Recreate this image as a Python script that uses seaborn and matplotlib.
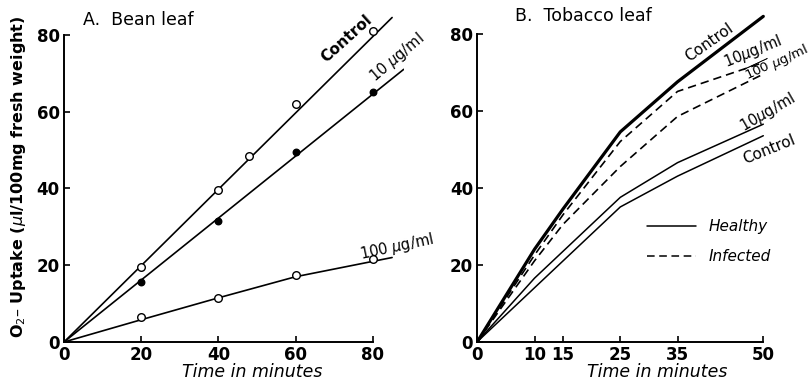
import matplotlib
matplotlib.use("Agg")
import matplotlib.pyplot as plt
import seaborn as sns
import numpy as np
import pandas as pd
from matplotlib.lines import Line2D

# ---------------- data ----------------
# Panel A: Bean leaf (measured points)
bean_t = [20, 40, 60, 80]
bean_ctrl_t = [20, 40, 48, 60, 80]
bean_ctrl = [19.5, 39.5, 48.5, 62, 81]
bean_10 = [15.5, 31.5, 49.5, 65]
bean_100 = [6.5, 11.5, 17.5, 21.5]
# Panel A: fitted curves
fit_ctrl_t = [0, 85]
fit_ctrl = [0, 84.5]
fit_10_t = [0, 88]
fit_10 = [0, 71]
fit_100_t = [0, 20, 40, 60, 80, 85]
fit_100 = [0, 5.8, 11.5, 17, 21, 22]

# Panel B: Tobacco leaf
tob_t = [0, 10, 15, 25, 35, 50]
tob_h_ctrl = [0, 24, 34.5, 54.5, 67.5, 84.5]      # healthy control (thick)
tob_i_10 = [0, 22.5, 33, 52, 65, 72.5]             # infected 10 ug/ml
tob_i_100 = [0, 21, 30.5, 45.5, 58.5, 69.5]        # infected 100 ug/ml
tob_h_10 = [0, 16.5, 23.5, 37.5, 46.5, 56.5]       # healthy 10 ug/ml
tob_h_ctrl2 = [0, 14, 21, 35, 43, 53.5]            # healthy control (thin)

x_ticks_a = [0, 20, 40, 60, 80]
x_ticks_b = [0, 10, 15, 25, 35, 50]
y_ticks = [0, 20, 40, 60, 80]

# ---------------- style ----------------
sns.set_style("ticks")
plt.rcParams['font.family'] = ['DejaVu Sans']
plt.rcParams['text.color'] = 'black'
plt.rcParams['axes.labelcolor'] = 'black'

W, H = 811, 384
fig = plt.figure(figsize=(W / 100, H / 100), dpi=100)

def px_axes(x0, y0_bottom, w, h):
    return fig.add_axes([x0 / W, 1 - y0_bottom / H, w / W, h / H])

# Panel A axes: x 0 at 64px, 3.86 px/unit ; y 0 at 342px, 3.84 px/unit
axA = px_axes(64, 342, 88 * 3.86, 86 * 3.84)
axA.set_xlim(0, 88)
axA.set_ylim(0, 86)

# Panel B axes: x 0 at 477px, 5.72 px/min
axB = px_axes(477.3, 341.7, 52.5 * 5.72, 86 * 3.85)
axB.set_xlim(0, 52.5)
axB.set_ylim(0, 86)

k = dict(color='black', legend=False)

# ---- Panel A ----
sns.lineplot(x=fit_ctrl_t, y=fit_ctrl, ax=axA, lw=1.2, **k)
sns.lineplot(x=fit_10_t, y=fit_10, ax=axA, lw=1.2, **k)
sns.lineplot(x=fit_100_t, y=fit_100, ax=axA, lw=1.2, **k)
sns.scatterplot(x=bean_ctrl_t, y=bean_ctrl, ax=axA, marker='o', s=30,
                facecolor='white', edgecolor='black', linewidth=1.0, zorder=5)
sns.scatterplot(x=bean_t, y=bean_100, ax=axA, marker='o', s=30,
                facecolor='white', edgecolor='black', linewidth=1.0, zorder=5)
sns.scatterplot(x=bean_t, y=bean_10, ax=axA, marker='o', s=22,
                facecolor='black', edgecolor='black', linewidth=1.0, zorder=5)

# ---- Panel B ----
sns.lineplot(x=tob_t, y=tob_h_ctrl, ax=axB, lw=2.3, **k)
sns.lineplot(x=tob_t, y=tob_i_10, ax=axB, lw=1.2, linestyle=(0, (5, 3)), **k)
sns.lineplot(x=tob_t, y=tob_i_100, ax=axB, lw=1.2, linestyle=(0, (5, 3)), **k)
sns.lineplot(x=tob_t, y=tob_h_10, ax=axB, lw=1.1, **k)
sns.lineplot(x=tob_t, y=tob_h_ctrl2, ax=axB, lw=1.1, **k)

handles = [Line2D([], [], color='black', lw=1.1),
           Line2D([], [], color='black', lw=1.1, linestyle=(0, (5, 3)))]
axB.legend(handles, ['Healthy', 'Infected'], loc='upper left',
           bbox_to_anchor=(0.52, 0.412), frameon=False, handlelength=3.2,
           labelspacing=1.0, prop={'style': 'italic', 'size': 11})

# ---- axes styling ----
tick_font = dict(fontsize=12, fontweight='bold')
for ax, xt in ((axA, x_ticks_a), (axB, x_ticks_b)):
    sns.despine(ax=ax)
    ax.set_xticks(xt)
    ax.set_yticks(y_ticks)
    ax.set_xticklabels([str(v) for v in xt], **tick_font)
    ax.set_yticklabels([str(v) for v in y_ticks], **tick_font)
    ax.tick_params(direction='in', length=4, width=1.2, pad=3, colors='black')
    ax.spines['left'].set_bounds(0, 80)
    ax.spines['bottom'].set_bounds(0, xt[-1])
    for s in ('left', 'bottom'):
        ax.spines[s].set_linewidth(1.4)
        ax.spines[s].set_color('black')
    ax.set_xlabel('Time in minutes', fontsize=12.5, style='italic')
    ax.set_ylabel('')

axA.xaxis.set_label_coords(0.553, -0.063)
axB.xaxis.set_label_coords(0.598, -0.063)

axA.set_ylabel('O$_2$– Uptake ($\\mu$l/100mg fresh weight)', fontsize=11.5,
               fontweight='bold', labelpad=6)

fig.text(83 / W, 1 - 20 / H, 'A.  Bean leaf', fontsize=12.5, va='center', ha='left')
fig.text(515 / W, 1 - 16 / H, 'B.  Tobacco leaf', fontsize=12.5, va='center', ha='left')

# Panel A curve labels
axA.text(73.3, 79, 'Control', rotation=42, fontsize=11, fontweight='bold',
         ha='center', va='center')
axA.text(86.3, 74, '10 $\\mu$g/ml', rotation=40, fontsize=10.5,
         ha='center', va='center')
axA.text(86.3, 24.7, '100 $\\mu$g/ml', rotation=12, fontsize=10.5,
         ha='center', va='center')

# Panel B curve labels
axB.text(40.5, 77.6, 'Control', rotation=35, fontsize=11, ha='center', va='center')
axB.text(48.2, 75.2, '10$\\mu$g/ml', rotation=22, fontsize=10.5,
         ha='center', va='center')
axB.text(52.4, 72.3, '$\\overline{100}$ $\\mu$g/ml', rotation=25, fontsize=9.5,
         ha='center', va='center')
axB.text(50.8, 59.6, '10$\\mu$g/ml', rotation=30, fontsize=10.5,
         ha='center', va='center')
axB.text(51, 49.8, 'Control', rotation=22, fontsize=11, ha='center', va='center')

fig.savefig('out.png', dpi=100)
